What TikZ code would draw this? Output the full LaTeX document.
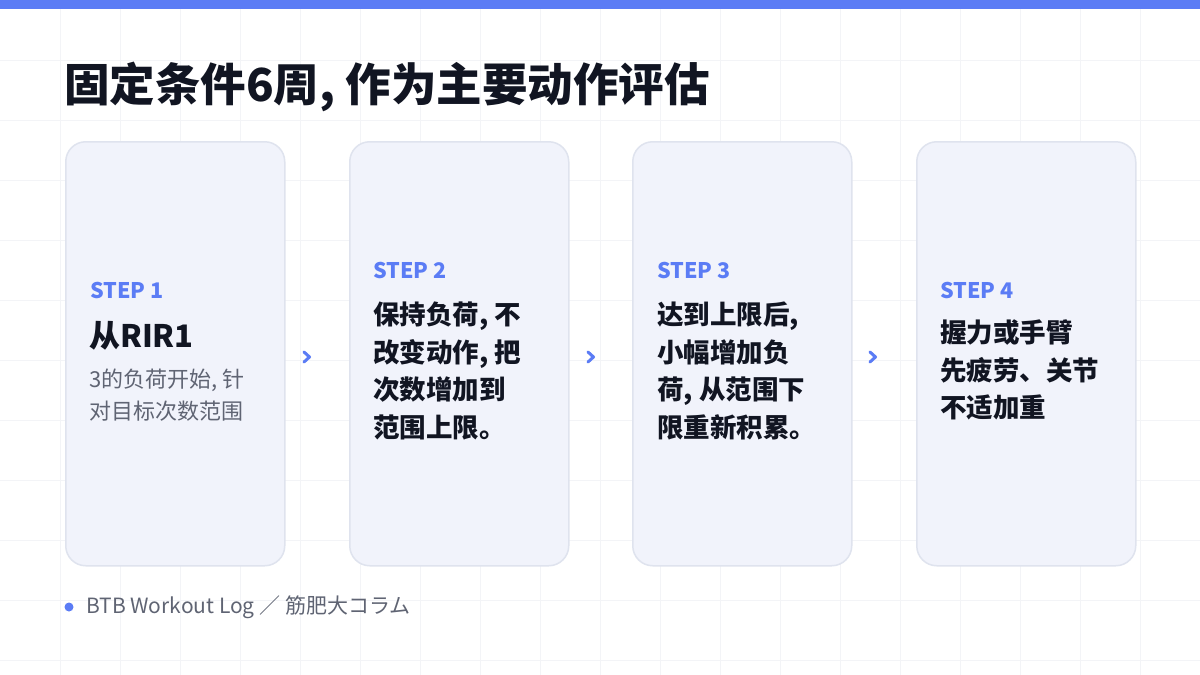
\documentclass[tikz,border=0pt]{standalone}
\usepackage{fontspec}
\setmainfont{Noto Sans CJK SC}
\newfontfamily\cjkbold{Noto Sans CJK SC Black}
\usetikzlibrary{positioning}
\definecolor{barblue}{HTML}{5B7CF5}
\definecolor{cardfill}{HTML}{F1F3FB}
\definecolor{cardline}{HTML}{DFE3EE}
\definecolor{inkdark}{HTML}{111522}
\definecolor{inkgray}{HTML}{5F6473}
\definecolor{gridc}{HTML}{F3F4F7}
\begin{document}
\begin{tikzpicture}[x=1pt, y=-1pt]
\tikzset{card/.style={draw=cardline, line width=1.5pt, fill=cardfill, rounded corners=20pt, minimum width=219pt, minimum height=424pt, anchor=north west, inner sep=0pt}}
\tikzset{steplabel/.style={anchor=west, inner sep=0pt, text=barblue, font=\cjkbold\fontsize{21.5pt}{21.5pt}\selectfont}}
\tikzset{body/.style={anchor=north west, inner sep=0pt, text=inkdark, align=left, font=\cjkbold\fontsize{26.5pt}{37.5pt}\selectfont}}
\tikzset{sub/.style={anchor=north west, inner sep=0pt, text=inkgray, align=left, font=\fontsize{22pt}{32pt}\selectfont}}
\tikzset{chev/.style={draw=barblue, line width=3pt, line cap=round, line join=round}}

\useasboundingbox (0,0) rectangle (1200,675);
\fill[white] (0,0) rectangle (1200,675);
% grid
\foreach \i in {60,120,...,1140} \draw[gridc, line width=0.8pt] (\i,9) -- (\i,675);
\foreach \j in {60,120,...,660} \draw[gridc, line width=0.8pt] (0,\j) -- (1200,\j);
\fill[barblue] (0,0) rectangle (1200,9);

\node[anchor=west, inner sep=0pt, text=inkdark, font=\cjkbold\fontsize{45.5pt}{45.5pt}\selectfont] (title) at (64,87) {固定条件6周, 作为主要动作评估};

% cards
\node[card] (c1) at (65,141) {};
\node[card] (c2) at (349,141) {};
\node[card] (c3) at (632,141) {};
\node[card] (c4) at (916,141) {};

\node[steplabel] (s1) at (90,290) {STEP 1};
\node[body, font=\cjkbold\fontsize{31pt}{31pt}\selectfont] (h1) at (89,321) {从RIR1};
\node[sub] (t1) at (89,369) {3的负荷开始, 针\\对目标次数范围};

\node[steplabel] (s2) at (373,270) {STEP 2};
\node[body] (t2) at (373,302) {保持负荷, 不\\改变动作, 把\\次数增加到\\范围上限。};

\node[steplabel] (s3) at (657,270) {STEP 3};
\node[body] (t3) at (657,302) {达到上限后,\\小幅增加负\\荷, 从范围下\\限重新积累。};

\node[steplabel] (s4) at (940,290) {STEP 4};
\node[body] (t4) at (940,320) {握力或手臂\\先疲劳、关节\\不适加重};

% chevrons
\foreach \cx/\nm in {307/a1, 591/a2, 873/a3} {
  \coordinate (\nm) at (\cx,357);
  \draw[chev] ([shift={(-3,-5)}]\nm) -- ([shift={(2.5,0)}]\nm) -- ([shift={(-3,5)}]\nm);
}

% footer
\fill[barblue] (69,607) circle (4.5pt);
\node[anchor=west, inner sep=0pt, text=inkgray, font=\fontsize{21pt}{21pt}\selectfont] (foot) at (86,607) {BTB Workout Log ／ 筋肥大コラム};
\end{tikzpicture}
\end{document}
